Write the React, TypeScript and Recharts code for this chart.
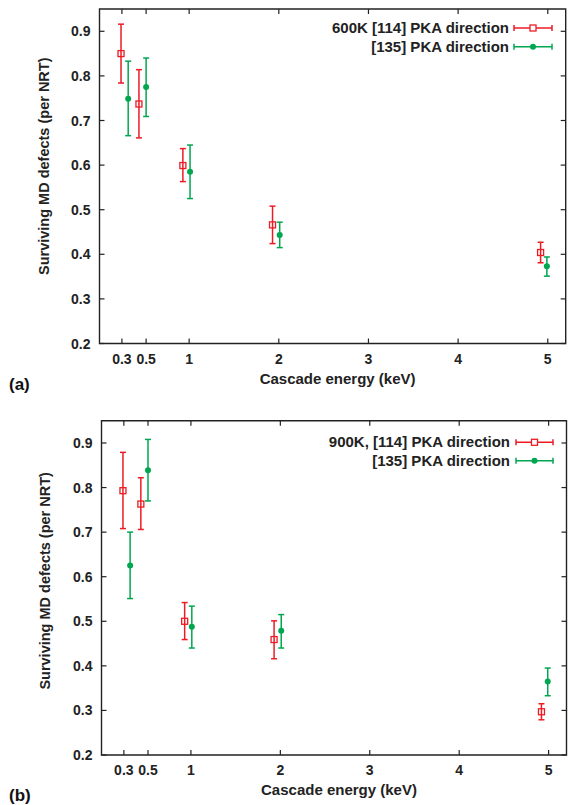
import React from 'react';
import { ScatterChart, Scatter, XAxis, YAxis, ErrorBar, ReferenceArea, Legend } from 'recharts';

const FONT = '"Liberation Sans", Arial, Helvetica, sans-serif';
const RED = '#ec1c24';
const GREEN = '#00a650';

// x positions of the plotted points (keV), slightly offset per series as in the figure
const energiesRed = [0.24, 0.44, 0.93, 1.93, 4.92];
const energiesGreen = [0.32, 0.52, 1.01, 2.01, 4.99];

// Panel (a): 600K
const a114Mean = [0.850, 0.737, 0.599, 0.466, 0.404];
const a114Low = [0.784, 0.661, 0.563, 0.424, 0.381];
const a114High = [0.916, 0.814, 0.637, 0.508, 0.427];
const a135Mean = [0.749, 0.775, 0.585, 0.443, 0.373];
const a135Low = [0.666, 0.709, 0.525, 0.415, 0.351];
const a135High = [0.833, 0.840, 0.645, 0.472, 0.394];

// Panel (b): 900K
const b114Mean = [0.793, 0.763, 0.500, 0.459, 0.297];
const b114Low = [0.708, 0.706, 0.459, 0.416, 0.279];
const b114High = [0.879, 0.822, 0.542, 0.501, 0.315];
const b135Mean = [0.625, 0.839, 0.488, 0.479, 0.365];
const b135Low = [0.551, 0.770, 0.440, 0.440, 0.333];
const b135High = [0.700, 0.908, 0.534, 0.515, 0.395];

const xTickValues = [0.25, 0.52, 1, 2, 3, 4, 5];
const xTickLabels = ['0.3', '0.5', '1', '2', '3', '4', '5'];
const yTickValues = [0.2, 0.3, 0.4, 0.5, 0.6, 0.7, 0.8, 0.9];
const yTickLabels = ['0.2', '0.3', '0.4', '0.5', '0.6', '0.7', '0.8', '0.9'];
const xDomain = [0, 5.2];
const yDomain = [0.2, 0.95];

function build(xs: number[], ys: number[], lo: number[], hi: number[]) {
  return xs.map((x, i) => ({ x, y: ys[i], err: [ys[i] - lo[i], hi[i] - ys[i]] }));
}

type Geo = {
  width: number; height: number; left: number; right: number; top: number; bottom: number;
  legendEnd: number; legendLineStart: number; legendLineEnd: number; legendRow1: number; legendRow2: number;
  yLabelX: number; yLabelShift: number;
};

const Y_AXIS_W = 60;
const X_AXIS_H = 30;

const RedSquare = (props: any) => {
  const { cx, cy } = props;
  if (cx == null || cy == null) return null;
  return <rect x={cx - 3} y={cy - 3} width={6} height={6} fill="none" stroke={RED} strokeWidth={1.3} />;
};
const GreenDot = (props: any) => {
  const { cx, cy } = props;
  if (cx == null || cy == null) return null;
  return <circle cx={cx} cy={cy} r={3} fill={GREEN} />;
};

function Panel({ geo, red, green, label1, label2, tag }: { geo: Geo; red: any[]; green: any[]; label1: string; label2: string; tag: string }) {
  const margin = {
    top: geo.top,
    right: geo.width - geo.right,
    left: geo.left - Y_AXIS_W,
    bottom: geo.height - geo.bottom - X_AXIS_H,
  };

  const XTick = (props: any) => {
    const { x, payload } = props;
    const idx = xTickValues.indexOf(payload.value);
    return (
      <g>
        <line x1={x} x2={x} y1={geo.bottom} y2={geo.bottom - 5} stroke="#222" strokeWidth={1.2} />
        <line x1={x} x2={x} y1={geo.top} y2={geo.top + 5} stroke="#222" strokeWidth={1.2} />
        <text x={x} y={geo.bottom + 20} textAnchor="middle" fontFamily={FONT} fontWeight="bold" fontSize={14} fill="#222">
          {idx >= 0 ? xTickLabels[idx] : payload.value}
        </text>
      </g>
    );
  };

  const YTick = (props: any) => {
    const { y, payload } = props;
    const idx = yTickValues.indexOf(payload.value);
    return (
      <g>
        <line x1={geo.left} x2={geo.left + 5} y1={y} y2={y} stroke="#222" strokeWidth={1.2} />
        <line x1={geo.right} x2={geo.right - 5} y1={y} y2={y} stroke="#222" strokeWidth={1.2} />
        <text x={geo.left - 9} y={y + 5} textAnchor="end" fontFamily={FONT} fontWeight="bold" fontSize={14} fill="#222">
          {idx >= 0 ? yTickLabels[idx] : payload.value}
        </text>
      </g>
    );
  };

  const YTitle = () => {
    const cy = (geo.top + geo.bottom) / 2 + geo.yLabelShift;
    return (
      <text
        x={geo.yLabelX}
        y={cy}
        transform={`rotate(-90 ${geo.yLabelX} ${cy})`}
        textAnchor="middle"
        dominantBaseline="central"
        fontFamily={FONT}
        fontWeight="bold"
        fontSize={14.5}
        fill="#222"
      >
        Surviving MD defects (per NRT)
      </text>
    );
  };

  const XTitle = () => (
    <g>
      <text x={(geo.left + geo.right) / 2 + 5} y={geo.bottom + 40} textAnchor="middle" fontFamily={FONT} fontWeight="bold" fontSize={15} fill="#222">
        Cascade energy (keV)
      </text>
      <text x={9} y={geo.bottom + 46} textAnchor="start" fontFamily={FONT} fontWeight="bold" fontSize={17} fill="#111">
        {tag}
      </text>
    </g>
  );

  const legendRow = (text: string, color: string, cy: number, marker: 'sq' | 'dot') => {
    const mid = (geo.legendLineStart + geo.legendLineEnd) / 2;
    return (
      <g>
        <text x={geo.legendEnd} y={cy + 5} textAnchor="end" fontFamily={FONT} fontWeight="bold" fontSize={15} fill="#222">
          {text}
        </text>
        <line x1={geo.legendLineStart} x2={geo.legendLineEnd} y1={cy} y2={cy} stroke={color} strokeWidth={1.5} />
        <line x1={geo.legendLineStart} x2={geo.legendLineStart} y1={cy - 3} y2={cy + 3} stroke={color} strokeWidth={1.5} />
        <line x1={geo.legendLineEnd} x2={geo.legendLineEnd} y1={cy - 3} y2={cy + 3} stroke={color} strokeWidth={1.5} />
        {marker === 'sq' ? (
          <rect x={mid - 3} y={cy - 3} width={6} height={6} fill="#fff" stroke={color} strokeWidth={1.3} />
        ) : (
          <circle cx={mid} cy={cy} r={3} fill={color} />
        )}
      </g>
    );
  };

  const renderLegend = () => (
    <svg width={geo.width} height={80} style={{ display: 'block' }}>
      {legendRow(label1, RED, geo.legendRow1, 'sq')}
      {legendRow(label2, GREEN, geo.legendRow2, 'dot')}
    </svg>
  );

  return (
    <ScatterChart width={geo.width} height={geo.height} margin={margin}>
      <XAxis
        type="number"
        dataKey="x"
        domain={xDomain}
        ticks={xTickValues}
        interval={0}
        allowDataOverflow
        axisLine={false}
        tickLine={false}
        tick={<XTick />}
        height={X_AXIS_H}
        label={<XTitle />}
      />
      <YAxis
        type="number"
        dataKey="y"
        domain={yDomain}
        ticks={yTickValues}
        interval={0}
        allowDataOverflow
        axisLine={false}
        tickLine={false}
        tick={<YTick />}
        width={Y_AXIS_W}
        label={<YTitle />}
      />
      <ReferenceArea x1={xDomain[0]} x2={xDomain[1]} y1={yDomain[0]} y2={yDomain[1]} fill="none" stroke="#222" strokeWidth={1.4} ifOverflow="visible" />
      <Scatter data={red} shape={<RedSquare />} isAnimationActive={false}>
        <ErrorBar dataKey="err" direction="y" width={3} stroke={RED} strokeWidth={1.5} />
      </Scatter>
      <Scatter data={green} shape={<GreenDot />} isAnimationActive={false}>
        <ErrorBar dataKey="err" direction="y" width={3} stroke={GREEN} strokeWidth={1.5} />
      </Scatter>
      <Legend
        layout="vertical"
        align="center"
        verticalAlign="middle"
        content={renderLegend}
        wrapperStyle={{ position: 'absolute', left: 0, top: 0, width: geo.width, height: 80, pointerEvents: 'none' }}
      />
    </ScatterChart>
  );
}

const geoA: Geo = {
  width: 570, height: 402, left: 99.5, right: 565.7, top: 9, bottom: 343.5,
  legendEnd: 509, legendLineStart: 514, legendLineEnd: 552, legendRow1: 28, legendRow2: 46.7,
  yLabelX: 44, yLabelShift: -10,
};
const geoB: Geo = {
  width: 570, height: 403, left: 101.5, right: 566.5, top: 18.7, bottom: 353,
  legendEnd: 510, legendLineStart: 516, legendLineEnd: 553, legendRow1: 40.3, legendRow2: 58.7,
  yLabelX: 45, yLabelShift: -7,
};

export default function App() {
  return (
    <div style={{ position: 'absolute', left: 0, top: 0, width: 570, height: 805, background: '#fff' }}>
      <Panel
        geo={geoA}
        red={build(energiesRed, a114Mean, a114Low, a114High)}
        green={build(energiesGreen, a135Mean, a135Low, a135High)}
        label1="600K [114] PKA direction"
        label2="[135] PKA direction"
        tag="(a)"
      />
      <Panel
        geo={geoB}
        red={build(energiesRed, b114Mean, b114Low, b114High)}
        green={build(energiesGreen, b135Mean, b135Low, b135High)}
        label1="900K, [114] PKA direction"
        label2="[135] PKA direction"
        tag="(b)"
      />
    </div>
  );
}
